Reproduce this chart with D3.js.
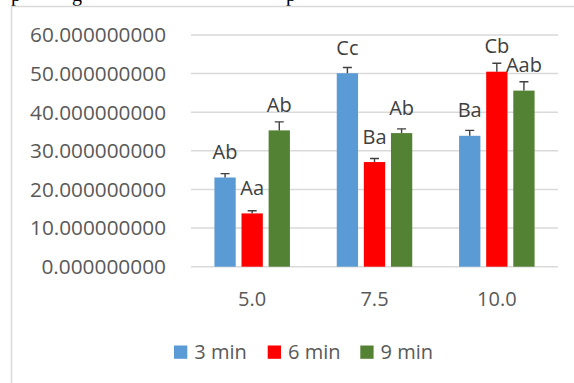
<!DOCTYPE html>
<html>
<head>
<meta charset="utf-8">
<script src="https://cdn.jsdelivr.net/npm/d3@7"></script>
<style>
  html, body { margin: 0; padding: 0; background: #fff; }
  svg { display: block; }
</style>
</head>
<body>
<svg id="chart" width="574" height="383"></svg>
<script>
// ---- data ----
const categories = ["5.0", "7.5", "10.0"];
const seriesNames = ["3 min", "6 min", "9 min"];
const values3 = [23.1, 50.1, 33.9];
const values6 = [13.8, 27.1, 50.5];
const values9 = [35.3, 34.6, 45.6];
const errors3 = [1.0, 1.5, 1.4];
const errors6 = [0.7, 0.9, 2.2];
const errors9 = [2.2, 1.1, 2.3];
const labels3 = ["Ab", "Cc", "Ba"];
const labels6 = ["Aa", "Ba", "Cb"];
const labels9 = ["Ab", "Ab", "Aab"];
const yTicks = [0, 10, 20, 30, 40, 50, 60];
const colors = ["#5B9BD5", "#FF0000", "#548235"];

const seriesValues = [values3, values6, values9];
const seriesErrors = [errors3, errors6, errors9];
const seriesLabels = [labels3, labels6, labels9];

const svg = d3.select("#chart");
const FONT = "'Open Sans', 'Liberation Sans', sans-serif";

// fragment of the preceding document text (cropped at top, as in the reference)
const frag = svg.append("g").attr("font-family", "'Liberation Serif', 'Times New Roman', serif")
  .attr("font-size", 20).attr("fill", "#000");
[["p", 11], ["g", 72], ["p", 286]].forEach(([t, x]) => {
  frag.append("text").attr("x", x).attr("y", 1).text(t);
});

// chart frame (only left and top visible)
svg.append("path")
  .attr("d", "M11.5,383 L11.5,6.5 L574,6.5")
  .attr("fill", "none").attr("stroke", "#D9D9D9").attr("stroke-width", 1.5);

// scales
const x0 = d3.scaleBand().domain(categories).range([191, 558]).padding(0);
const gw = x0.bandwidth();
const groupSpan = 81.3;
const x1 = d3.scaleBand().domain(seriesNames)
  .range([(gw - groupSpan) / 2, (gw + groupSpan) / 2])
  .paddingInner(0.214).paddingOuter(0.107);
const y = d3.scaleLinear().domain([0, 60]).range([266.7, 35]);

// gridlines
svg.append("g").selectAll("line").data(yTicks).join("line")
  .attr("x1", 191).attr("x2", 558)
  .attr("y1", d => y(d)).attr("y2", d => y(d))
  .attr("stroke", "#D9D9D9").attr("stroke-width", 1.5);

// y axis labels
const fmt = d3.format(".9f");
const yAxis = d3.axisLeft(y).tickValues(yTicks).tickSize(0).tickPadding(0)
  .tickFormat(d => fmt(d));
const yg = svg.append("g").attr("transform", "translate(166,0)").call(yAxis);
yg.select(".domain").remove();
yg.selectAll("text").attr("font-family", FONT).attr("font-size", 20)
  .attr("fill", "#595959").attr("dy", "0.34em")
  .attr("textLength", d => fmt(d).length * 11.33).attr("lengthAdjust", "spacingAndGlyphs");

// x axis labels
const xAxis = d3.axisBottom(x0).tickSize(0).tickPadding(0);
const xg = svg.append("g").attr("transform", "translate(0,306)").call(xAxis);
xg.select(".domain").remove();
xg.selectAll("text").attr("font-family", FONT).attr("font-size", 20)
  .attr("fill", "#595959").attr("dy", 0);

// bars
const data = [];
categories.forEach((c, ci) => {
  seriesNames.forEach((s, si) => {
    data.push({ c, s, si, v: seriesValues[si][ci], e: seriesErrors[si][ci], lab: seriesLabels[si][ci] });
  });
});

const bx = d => x0(d.c) + x1(d.s);
const bw = x1.bandwidth();

svg.append("g").selectAll("rect").data(data).join("rect")
  .attr("x", bx).attr("width", bw)
  .attr("y", d => y(d.v)).attr("height", d => y(0) - y(d.v))
  .attr("fill", d => colors[d.si]);

// error bars (plus direction)
const eg = svg.append("g").attr("stroke", "#404040").attr("stroke-width", 1.4).attr("fill", "none");
eg.selectAll("path").data(data).join("path")
  .attr("d", d => {
    const cx = bx(d) + bw / 2;
    const yt = y(d.v + d.e);
    return `M${cx},${y(d.v)} L${cx},${yt} M${cx - 4.5},${yt} L${cx + 4.5},${yt}`;
  });

// data labels
svg.append("g").selectAll("text").data(data).join("text")
  .attr("x", d => bx(d) + bw / 2)
  .attr("y", d => y(d.v) - 18.5)
  .attr("text-anchor", "middle")
  .attr("font-family", FONT).attr("font-size", 20)
  .attr("fill", "#404040")
  .text(d => d.lab);

// legend
const legX = [174, 267.7, 360.3];
const lg = svg.append("g");
seriesNames.forEach((s, i) => {
  lg.append("rect").attr("x", legX[i]).attr("y", 345.5).attr("width", 13.3).attr("height", 13.3)
    .attr("fill", colors[i]);
  lg.append("text").attr("x", legX[i] + 20.3).attr("y", 359.2)
    .attr("font-family", FONT).attr("font-size", 20).attr("fill", "#595959").text(s);
});
</script>
</body>
</html>
